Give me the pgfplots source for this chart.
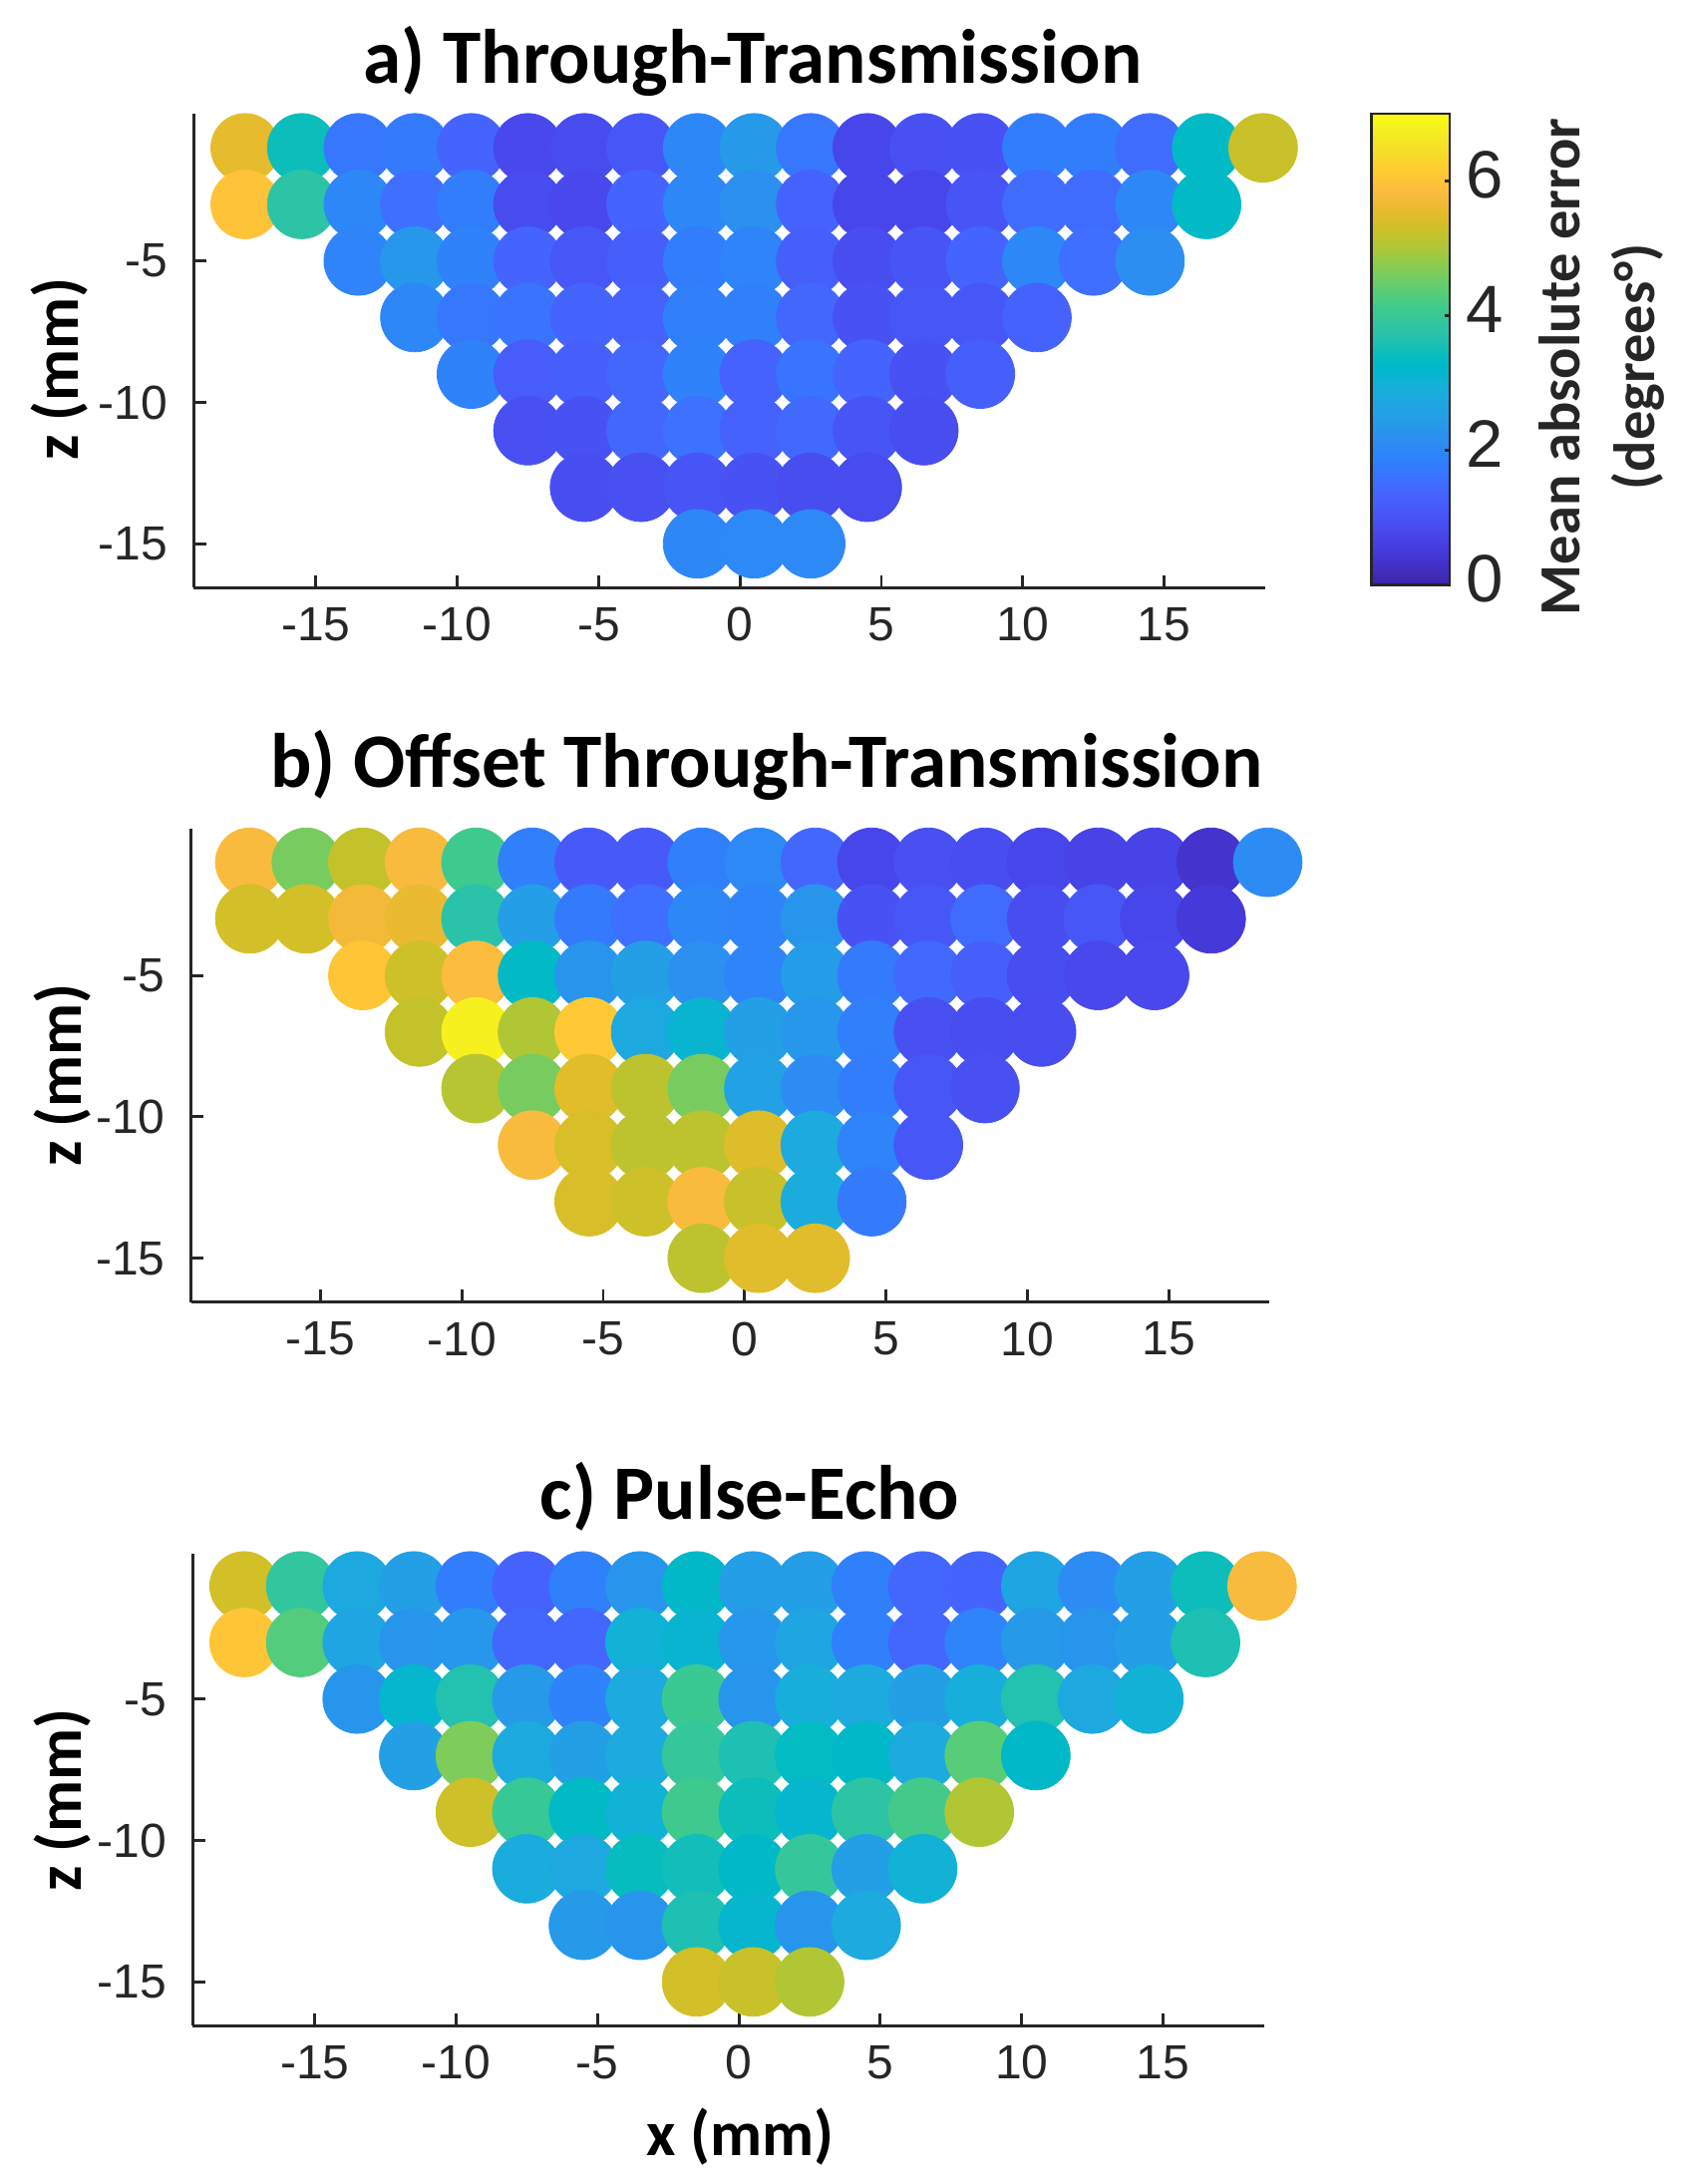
\documentclass[border=0pt]{standalone}
\usepackage{fontspec}
\setmainfont{Liberation Sans}
\newfontfamily\calfont{Carlito}
\usepackage{pgfplots}
\usepackage{pgfplotstable}
\pgfplotsset{compat=1.18}
\definecolor{dgray}{RGB}{38,38,38}

% parula, 64 entries
\pgfplotsset{
  colormap={parula}{
    rgb=(0.2422,0.1504,0.6603) rgb=(0.2504,0.1650,0.7076) rgb=(0.2578,0.1818,0.7511) rgb=(0.2647,0.1978,0.7952)
    rgb=(0.2706,0.2147,0.8364) rgb=(0.2751,0.2342,0.8710) rgb=(0.2783,0.2559,0.8991) rgb=(0.2803,0.2782,0.9221)
    rgb=(0.2813,0.3006,0.9414) rgb=(0.2810,0.3228,0.9579) rgb=(0.2795,0.3447,0.9717) rgb=(0.2760,0.3667,0.9829)
    rgb=(0.2699,0.3892,0.9906) rgb=(0.2602,0.4123,0.9952) rgb=(0.2440,0.4358,0.9988) rgb=(0.2206,0.4603,0.9973)
    rgb=(0.1963,0.4847,0.9892) rgb=(0.1834,0.5074,0.9798) rgb=(0.1786,0.5289,0.9682) rgb=(0.1764,0.5499,0.9520)
    rgb=(0.1687,0.5703,0.9359) rgb=(0.1540,0.5902,0.9218) rgb=(0.1460,0.6091,0.9079) rgb=(0.1380,0.6276,0.8973)
    rgb=(0.1248,0.6459,0.8883) rgb=(0.1113,0.6635,0.8763) rgb=(0.0952,0.6798,0.8598) rgb=(0.0689,0.6948,0.8394)
    rgb=(0.0297,0.7082,0.8163) rgb=(0.0036,0.7203,0.7917) rgb=(0.0067,0.7312,0.7660) rgb=(0.0433,0.7411,0.7394)
    rgb=(0.0964,0.7500,0.7120) rgb=(0.1408,0.7584,0.6842) rgb=(0.1717,0.7670,0.6554) rgb=(0.1938,0.7758,0.6251)
    rgb=(0.2161,0.7843,0.5923) rgb=(0.2470,0.7918,0.5567) rgb=(0.2906,0.7973,0.5188) rgb=(0.3406,0.8008,0.4789)
    rgb=(0.3909,0.8029,0.4354) rgb=(0.4456,0.8024,0.3909) rgb=(0.5044,0.7993,0.3480) rgb=(0.5616,0.7942,0.3045)
    rgb=(0.6174,0.7876,0.2612) rgb=(0.6720,0.7793,0.2227) rgb=(0.7242,0.7698,0.1910) rgb=(0.7738,0.7598,0.1646)
    rgb=(0.8203,0.7498,0.1535) rgb=(0.8634,0.7406,0.1596) rgb=(0.9035,0.7330,0.1774) rgb=(0.9393,0.7288,0.2100)
    rgb=(0.9728,0.7298,0.2394) rgb=(0.9956,0.7434,0.2371) rgb=(0.9970,0.7659,0.2199) rgb=(0.9952,0.7893,0.2028)
    rgb=(0.9892,0.8136,0.1885) rgb=(0.9786,0.8386,0.1766) rgb=(0.9676,0.8639,0.1643) rgb=(0.9610,0.8890,0.1537)
    rgb=(0.9597,0.9135,0.1423) rgb=(0.9628,0.9373,0.1265) rgb=(0.9691,0.9606,0.1064) rgb=(0.9769,0.9839,0.0805)
  },
  panel/.style={
    x=7.09pt, y=7.09pt, anchor=south west,
    ymin=-16.55, xmax=18.56,
    axis x line*=bottom, axis y line*=left,
    axis line style={-, line width=0.72pt, dgray},
    tick align=inside, major tick length=3.1pt,
    tick style={line width=0.72pt, dgray},
    xtick={-15,-10,-5,0,5,10,15}, xticklabels={-15,-10,-5,0,5,10,15},
    ytick={-15,-10,-5}, yticklabels={-15,-10,-5},
    tick label style={font=\fontsize{12}{12}\selectfont, text=dgray},
    xticklabel style={yshift=-1.5pt},
    yticklabel style={xshift=-3pt},
    colormap name=parula,
    point meta min=0, point meta max=7,
    clip=false,
  },
  dots/.style={scatter, only marks, mark=*, mark size=8.6pt,
    scatter src=explicit,
    mark options={line width=0.2pt},
    scatter/use mapped color={draw=mapped color, fill=mapped color}},
}

% x z error, drawn row by row from the top
\pgfplotstableread[row sep=\\]{
x z e\\
-17.5 -1 5.55\\ -15.5 -1 3.45\\ -13.5 -1 1.7\\ -11.5 -1 1.75\\ -9.5 -1 1.35\\ -7.5 -1 0.8\\ -5.5 -1 0.85\\ -3.5 -1 1.1\\ -1.5 -1 2.0\\ 0.5 -1 2.4\\
2.5 -1 1.7\\ 4.5 -1 0.75\\ 6.5 -1 0.95\\ 8.5 -1 1.0\\ 10.5 -1 1.8\\ 12.5 -1 1.8\\ 14.5 -1 1.5\\ 16.5 -1 3.3\\ 18.5 -1 5.25\\
-17.5 -3 6.0\\ -15.5 -3 3.8\\ -13.5 -3 2.0\\ -11.5 -3 1.55\\ -9.5 -3 1.8\\ -7.5 -3 0.85\\ -5.5 -3 0.8\\ -3.5 -3 1.35\\ -1.5 -3 2.0\\ 0.5 -3 2.2\\
2.5 -3 1.3\\ 4.5 -3 0.75\\ 6.5 -3 0.75\\ 8.5 -3 1.05\\ 10.5 -3 1.5\\ 12.5 -3 1.5\\ 14.5 -3 2.0\\ 16.5 -3 3.3\\
-13.5 -5 1.95\\ -11.5 -5 2.35\\ -9.5 -5 1.9\\ -7.5 -5 1.35\\ -5.5 -5 1.1\\ -3.5 -5 1.25\\ -1.5 -5 1.8\\ 0.5 -5 1.95\\
2.5 -5 1.25\\ 4.5 -5 0.9\\ 6.5 -5 1.05\\ 8.5 -5 1.35\\ 10.5 -5 2.0\\ 12.5 -5 1.55\\ 14.5 -5 2.15\\
-11.5 -7 2.0\\ -9.5 -7 1.7\\ -7.5 -7 1.65\\ -5.5 -7 1.35\\ -3.5 -7 1.3\\ -1.5 -7 1.85\\ 0.5 -7 1.85\\ 2.5 -7 1.4\\ 4.5 -7 1.0\\ 6.5 -7 1.1\\ 8.5 -7 1.1\\ 10.5 -7 1.3\\
-9.5 -9 1.9\\ -7.5 -9 1.2\\ -5.5 -9 1.25\\ -3.5 -9 1.4\\ -1.5 -9 1.9\\ 0.5 -9 1.3\\ 2.5 -9 1.65\\ 4.5 -9 1.35\\ 6.5 -9 1.0\\ 8.5 -9 1.25\\
-7.5 -11 0.95\\ -5.5 -11 1.0\\ -3.5 -11 1.4\\ -1.5 -11 1.6\\ 0.5 -11 1.3\\ 2.5 -11 1.45\\ 4.5 -11 1.05\\ 6.5 -11 0.9\\
-5.5 -13 0.9\\ -3.5 -13 0.95\\ -1.5 -13 1.05\\ 0.5 -13 1.0\\ 2.5 -13 0.9\\ 4.5 -13 0.85\\
-1.5 -15 2.0\\ 0.5 -15 2.05\\ 2.5 -15 2.05\\
}\dataA

\pgfplotstableread[row sep=\\]{
x z e\\
-17.5 -1 5.8\\ -15.5 -1 4.6\\ -13.5 -1 5.2\\ -11.5 -1 5.8\\ -9.5 -1 4.1\\ -7.5 -1 1.85\\ -5.5 -1 1.15\\ -3.5 -1 1.15\\ -1.5 -1 1.85\\ 0.5 -1 2.05\\
2.5 -1 1.4\\ 4.5 -1 0.75\\ 6.5 -1 0.95\\ 8.5 -1 0.9\\ 10.5 -1 0.75\\ 12.5 -1 0.7\\ 14.5 -1 0.7\\ 16.5 -1 0.35\\ 18.5 -1 2.1\\
-17.5 -3 5.35\\ -15.5 -3 5.35\\ -13.5 -3 5.7\\ -11.5 -3 5.6\\ -9.5 -3 3.75\\ -7.5 -3 2.5\\ -5.5 -3 1.75\\ -3.5 -3 1.55\\ -1.5 -3 2.0\\ 0.5 -3 1.95\\
2.5 -3 2.3\\ 4.5 -3 1.0\\ 6.5 -3 1.1\\ 8.5 -3 1.5\\ 10.5 -3 0.9\\ 12.5 -3 1.1\\ 14.5 -3 0.75\\ 16.5 -3 0.5\\
-13.5 -5 6.05\\ -11.5 -5 5.3\\ -9.5 -5 5.85\\ -7.5 -5 3.3\\ -5.5 -5 2.3\\ -3.5 -5 2.55\\ -1.5 -5 2.2\\ 0.5 -5 1.95\\
2.5 -5 2.45\\ 4.5 -5 1.75\\ 6.5 -5 1.45\\ 8.5 -5 1.25\\ 10.5 -5 0.9\\ 12.5 -5 0.8\\ 14.5 -5 0.8\\
-11.5 -7 5.2\\ -9.5 -7 6.8\\ -7.5 -7 5.05\\ -5.5 -7 6.1\\ -3.5 -7 2.75\\ -1.5 -7 3.1\\ 0.5 -7 2.55\\ 2.5 -7 2.35\\ 4.5 -7 1.85\\ 6.5 -7 0.95\\ 8.5 -7 0.9\\ 10.5 -7 0.85\\
-9.5 -9 5.1\\ -7.5 -9 4.6\\ -5.5 -9 5.5\\ -3.5 -9 5.15\\ -1.5 -9 4.6\\ 0.5 -9 2.6\\ 2.5 -9 2.1\\ 4.5 -9 1.8\\ 6.5 -9 1.1\\ 8.5 -9 0.95\\
-7.5 -11 5.8\\ -5.5 -11 5.4\\ -3.5 -11 5.15\\ -1.5 -11 5.15\\ 0.5 -11 5.45\\ 2.5 -11 2.8\\ 4.5 -11 1.95\\ 6.5 -11 1.1\\
-5.5 -13 5.4\\ -3.5 -13 5.3\\ -1.5 -13 5.8\\ 0.5 -13 5.25\\ 2.5 -13 2.85\\ 4.5 -13 1.75\\
-1.5 -15 5.15\\ 0.5 -15 5.5\\ 2.5 -15 5.5\\
}\dataB

\pgfplotstableread[row sep=\\]{
x z e\\
-17.5 -1 5.35\\ -15.5 -1 3.9\\ -13.5 -1 2.75\\ -11.5 -1 2.55\\ -9.5 -1 1.8\\ -7.5 -1 1.3\\ -5.5 -1 1.85\\ -3.5 -1 2.3\\ -1.5 -1 3.25\\ 0.5 -1 2.5\\
2.5 -1 2.5\\ 4.5 -1 1.85\\ 6.5 -1 1.4\\ 8.5 -1 1.35\\ 10.5 -1 2.7\\ 12.5 -1 2.1\\ 14.5 -1 2.55\\ 16.5 -1 3.45\\ 18.5 -1 5.8\\
-17.5 -3 6.05\\ -15.5 -3 4.3\\ -13.5 -3 2.7\\ -11.5 -3 2.3\\ -9.5 -3 2.35\\ -7.5 -3 1.4\\ -5.5 -3 1.4\\ -3.5 -3 3.0\\ -1.5 -3 3.1\\ 0.5 -3 2.35\\
2.5 -3 2.7\\ 4.5 -3 1.85\\ 6.5 -3 1.4\\ 8.5 -3 1.95\\ 10.5 -3 2.4\\ 12.5 -3 2.3\\ 14.5 -3 2.5\\ 16.5 -3 3.6\\
-13.5 -5 2.3\\ -11.5 -5 3.15\\ -9.5 -5 3.65\\ -7.5 -5 2.4\\ -5.5 -5 1.9\\ -3.5 -5 2.8\\ -1.5 -5 4.05\\ 0.5 -5 2.3\\
2.5 -5 2.9\\ 4.5 -5 2.8\\ 6.5 -5 2.55\\ 8.5 -5 2.9\\ 10.5 -5 3.65\\ 12.5 -5 2.75\\ 14.5 -5 3.0\\
-11.5 -7 2.55\\ -9.5 -7 4.65\\ -7.5 -7 2.8\\ -5.5 -7 2.55\\ -3.5 -7 2.8\\ -1.5 -7 3.95\\ 0.5 -7 3.6\\ 2.5 -7 3.35\\ 4.5 -7 3.25\\ 6.5 -7 2.8\\ 8.5 -7 4.35\\ 10.5 -7 3.25\\
-9.5 -9 5.3\\ -7.5 -9 4.0\\ -5.5 -9 3.3\\ -3.5 -9 3.0\\ -1.5 -9 4.1\\ 0.5 -9 3.45\\ 2.5 -9 3.15\\ 4.5 -9 3.8\\ 6.5 -9 4.15\\ 8.5 -9 5.05\\
-7.5 -11 2.85\\ -5.5 -11 2.75\\ -3.5 -11 3.4\\ -1.5 -11 3.5\\ 0.5 -11 3.25\\ 2.5 -11 3.95\\ 4.5 -11 2.55\\ 6.5 -11 3.0\\
-5.5 -13 2.4\\ -3.5 -13 2.3\\ -1.5 -13 3.6\\ 0.5 -13 3.15\\ 2.5 -13 2.3\\ 4.5 -13 2.8\\
-1.5 -15 5.35\\ 0.5 -15 5.25\\ 2.5 -15 5.05\\
}\dataC

\begin{document}
\begin{tikzpicture}
% a) through-transmission, carries the colorbar
\begin{axis}[panel, at={(48.575pt,400.175pt)}, xmin=-19.32, ymax=0.21,
  colorbar, colorbar/width=19.6pt,
  colorbar style={
    at={(parent axis.north east)}, anchor=north west,
    xshift=18.2pt, yshift=0pt,
    height=118.1pt,
    ytick={0,2,4,6}, yticklabels={0,2,4,6},
    ytick pos=right, tick align=inside,
    major tick length=1.3pt,
    tick style={line width=0.7pt, dgray},
    axis line style={line width=0.7pt, dgray},
    yticklabel style={font=\fontsize{16.8}{16.8}\selectfont, text=dgray, xshift=0.5pt, yshift=1.6pt},
  }]
\addplot[dots] table[x=x, y=z, meta=e] {\dataA};
\end{axis}

% b) offset through-transmission
\begin{axis}[panel, at={(47.95pt,221.075pt)}, xmin=-19.57, ymax=0.18]
\addplot[dots] table[x=x, y=z, meta=e] {\dataB};
\end{axis}

% c) pulse-echo
\begin{axis}[panel, at={(48.3pt,39.675pt)}, xmin=-19.32, ymax=0.13]
\addplot[dots] table[x=x, y=z, meta=e] {\dataC};
\end{axis}

\begin{scope}[every node/.style={font=\calfont\bfseries\fontsize{19.3}{19.3}\selectfont, anchor=base}]
\node at (188.75pt,526.6pt) {a) Through-Transmission};
\node at (192.25pt,350pt) {b) Offset Through-Transmission};
\node at (188pt,166.6pt) {c) Pulse-Echo};
\end{scope}

\begin{scope}[every node/.style={font=\calfont\bfseries\fontsize{16}{16}\selectfont}]
\node[rotate=90] at (15pt,455pt) {z (mm)};
\node[rotate=90] at (15.75pt,278pt) {z (mm)};
\node[rotate=90] at (15.75pt,96.25pt) {z (mm)};
\node[anchor=base] at (185.6pt,7pt) {x (mm)};
\end{scope}

\node[rotate=90, align=center, text=dgray, font=\calfont\bfseries\fontsize{14.6}{18.75}\selectfont]
  at (401.5pt,455.5pt) {Mean absolute error\\(degrees°)};

\pgfresetboundingbox
\useasboundingbox (0,0) rectangle (422pt,547.5pt);
\end{tikzpicture}
\end{document}
